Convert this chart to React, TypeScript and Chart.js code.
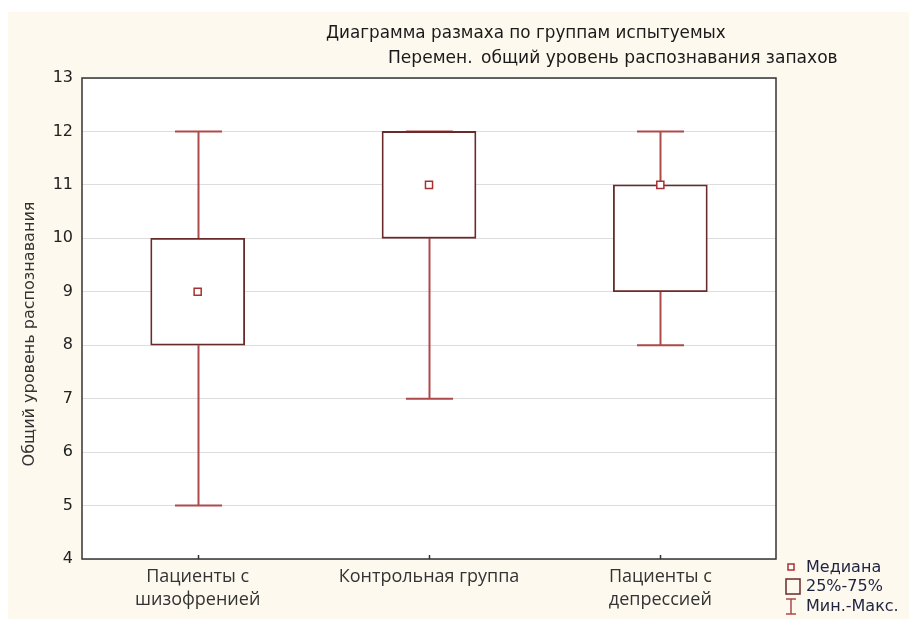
import React, { useEffect, useRef } from "react";
import { Chart, registerables } from "chart.js";

Chart.register(...registerables);

const categories: string[][] = [["Пациенты с", "шизофренией"], ["Контрольная группа"], ["Пациенты с", "депрессией"]];
const minValues = [5, 7, 8];
const q1Values = [8, 10, 9];
const medianValues = [9, 11, 11];
const q3Values = [10, 12, 11];
const maxValues = [12, 12, 12];
const titleLine1 = "Диаграмма размаха по группам испытуемых";
const titleLine2a = "Перемен.";
const titleLine2b = "общий уровень распознавания запахов";
const yAxisTitle = "Общий уровень распознавания";
const legendLabels = ["Медиана", "25%-75%", "Мин.-Макс."];

const BG = "#fdf9ee";
const WHISKER = "#ad4a4a";
const BOXBORDER = "#6a2a2a";
const MEDIAN = "#a83030";
const FAM = "'DejaVu Sans', Verdana, sans-serif";

function fitFont(ctx: CanvasRenderingContext2D, text: string, target: number, family: string) {
  ctx.font = `20px ${family}`;
  const w = ctx.measureText(text).width;
  return (20 * target) / w;
}

const drawPlugin = {
  id: "boxDecor",
  beforeDraw(chart: any) {
    const { ctx, chartArea } = chart;
    ctx.save();
    ctx.fillStyle = BG;
    ctx.fillRect(0, 0, chart.width, chart.height);
    ctx.fillStyle = "#ffffff";
    ctx.fillRect(chartArea.left, chartArea.top, chartArea.right - chartArea.left, chartArea.bottom - chartArea.top);
    ctx.restore();
  },
  beforeDatasetsDraw(chart: any) {
    const { ctx, scales } = chart;
    const xs = scales.x;
    const ys = scales.y;
    ctx.save();
    ctx.strokeStyle = WHISKER;
    ctx.lineWidth = 2;
    for (let i = 0; i < categories.length; i++) {
      const x = Math.round(xs.getPixelForValue(i)) + 0.5;
      const yMin = ys.getPixelForValue(minValues[i]);
      const yQ1 = ys.getPixelForValue(q1Values[i]);
      const yQ3 = ys.getPixelForValue(q3Values[i]);
      const yMax = ys.getPixelForValue(maxValues[i]);
      ctx.beginPath();
      ctx.moveTo(x, yMin);
      ctx.lineTo(x, yQ1);
      ctx.moveTo(x, yQ3);
      ctx.lineTo(x, yMax);
      ctx.moveTo(x - 23.5, yMin);
      ctx.lineTo(x + 23.5, yMin);
      ctx.moveTo(x - 23.5, yMax);
      ctx.lineTo(x + 23.5, yMax);
      ctx.stroke();
    }
    ctx.restore();
  },
  afterDraw(chart: any) {
    const { ctx, chartArea, scales } = chart;
    const xs = scales.x;
    ctx.save();
    ctx.strokeStyle = "#333333";
    ctx.lineWidth = 1.5;
    ctx.strokeRect(chartArea.left, chartArea.top, chartArea.right - chartArea.left, chartArea.bottom - chartArea.top);
    for (let i = 0; i < categories.length; i++) {
      const x = Math.round(xs.getPixelForValue(i)) + 0.5;
      ctx.beginPath();
      ctx.moveTo(x, chartArea.bottom);
      ctx.lineTo(x, chartArea.bottom - 4);
      ctx.stroke();
    }
    ctx.fillStyle = "#1a1a1a";
    ctx.textBaseline = "middle";
    ctx.textAlign = "left";
    const s1 = fitFont(ctx, titleLine1, 400, FAM);
    ctx.font = `${s1}px ${FAM}`;
    ctx.fillText(titleLine1, 318, 22);
    const s2 = fitFont(ctx, titleLine2b, 357, FAM);
    ctx.font = `${s2}px ${FAM}`;
    ctx.fillText(titleLine2a, 380, 47);
    ctx.fillText(titleLine2b, 473, 47);
    ctx.save();
    ctx.translate(22, 322);
    ctx.rotate(-Math.PI / 2);
    ctx.textAlign = "center";
    ctx.fillStyle = "#333333";
    const s3 = fitFont(ctx, yAxisTitle, 265, FAM);
    ctx.font = `${s3}px ${FAM}`;
    ctx.fillText(yAxisTitle, 0, 0);
    ctx.restore();
    const lx = 783;
    ctx.strokeStyle = MEDIAN;
    ctx.fillStyle = "#ffffff";
    ctx.lineWidth = 1.5;
    ctx.fillRect(lx - 3, 552, 6, 6);
    ctx.strokeRect(lx - 3, 552, 6, 6);
    ctx.strokeStyle = BOXBORDER;
    ctx.strokeRect(778, 567, 14, 15);
    ctx.strokeStyle = WHISKER;
    ctx.beginPath();
    ctx.moveTo(lx, 587);
    ctx.lineTo(lx, 602);
    ctx.moveTo(lx - 5, 587);
    ctx.lineTo(lx + 5, 587);
    ctx.moveTo(lx - 5, 602);
    ctx.lineTo(lx + 5, 602);
    ctx.stroke();
    ctx.fillStyle = "#1f2340";
    ctx.font = `16px ${FAM}`;
    ctx.textAlign = "left";
    ctx.fillText(legendLabels[0], 798, 556);
    ctx.fillText(legendLabels[1], 798, 575);
    ctx.fillText(legendLabels[2], 798, 595);
    ctx.restore();
  },
};

export default function App() {
  const ref = useRef<HTMLCanvasElement | null>(null);
  useEffect(() => {
    document.body.style.margin = "0";
    document.body.style.background = "#ffffff";
    if (!ref.current) return;
    const chart = new Chart(ref.current, {
      type: "bar",
      data: {
        labels: categories as any,
        datasets: [
          {
            type: "line" as any,
            label: "median",
            data: medianValues,
            showLine: false,
            pointStyle: "rect",
            pointRadius: 5,
            pointBorderWidth: 1.5,
            pointBackgroundColor: "#ffffff",
            pointBorderColor: MEDIAN,
            order: 0,
          } as any,
          {
            type: "bar",
            label: "box",
            data: q1Values.map((v, i) => [v, q3Values[i]]) as any,
            backgroundColor: "#ffffff",
            borderColor: BOXBORDER,
            borderWidth: 1.8,
            borderSkipped: false,
            barThickness: 94,
            grouped: false,
            order: 1,
          } as any,
        ],
      },
      options: {
        responsive: false,
        animation: false,
        devicePixelRatio: 1,
        layout: { padding: { left: 0, top: 66, right: 133, bottom: 0 } },
        plugins: {
          legend: { display: false },
          tooltip: { enabled: false },
          title: { display: false },
        },
        scales: {
          x: {
            type: "category",
            offset: true,
            grid: { display: false, drawTicks: false },
            border: { display: false },
            ticks: {
              padding: 7,
              color: "#333333",
              font: { family: "'Open Sans', sans-serif", size: 18, lineHeight: 1.25 },
              maxRotation: 0,
              autoSkip: false,
            },
            afterFit(scale: any) {
              scale.height = 60;
            },
          },
          y: {
            min: 4,
            max: 13,
            ticks: {
              stepSize: 1,
              padding: 9,
              color: "#222222",
              font: { family: FAM, size: 16 },
            },
            grid: { color: "#dddddd", lineWidth: 1, drawTicks: false },
            border: { display: false },
            afterFit(scale: any) {
              scale.width = 74;
            },
          },
        },
      } as any,
      plugins: [drawPlugin],
    });
    return () => chart.destroy();
  }, []);
  return (
    <div style={{ padding: "12px 0 0 8px", background: "#ffffff", width: 901, height: 607 }}>
      <canvas ref={ref} width={901} height={607} style={{ display: "block", width: 901, height: 607 }} />
    </div>
  );
}
